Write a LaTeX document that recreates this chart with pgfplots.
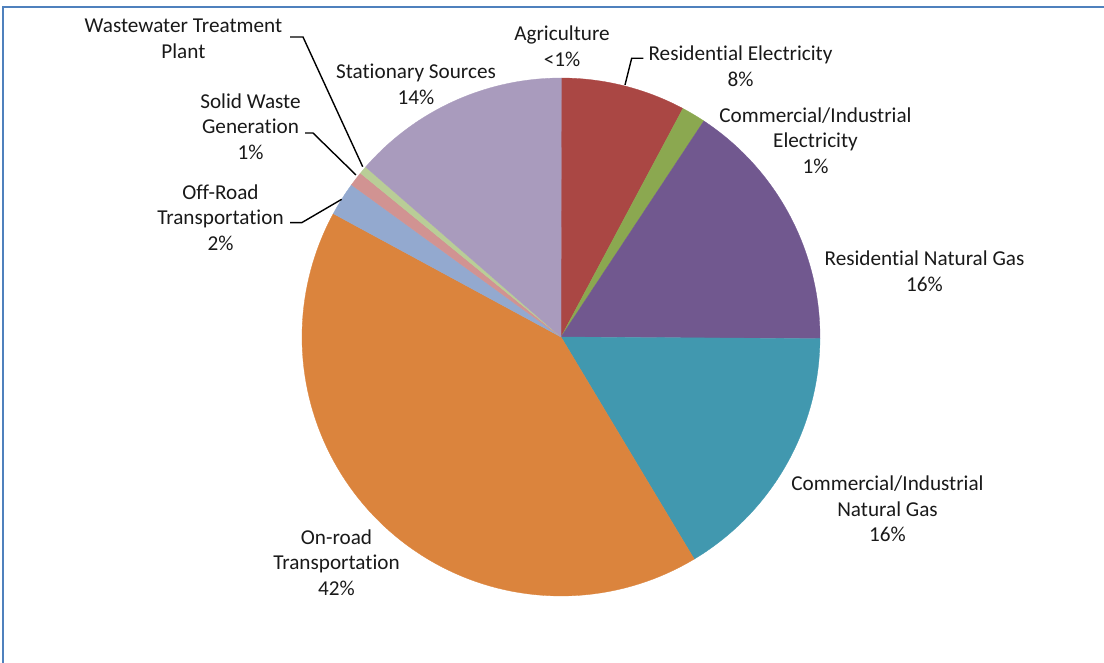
\documentclass[border=0pt]{standalone}
\usepackage{pgfplots}
\usepackage{pgfplotstable}
\pgfplotsset{compat=1.18}
\usepackage{fontspec}
\setmainfont{Carlito}[RawFeature={-liga}]
\definecolor{cAgr}{HTML}{A99BBD}
\definecolor{cRE}{HTML}{AA4744}
\definecolor{cCE}{HTML}{8BA850}
\definecolor{cRG}{HTML}{71588F}
\definecolor{cCG}{HTML}{4198AF}
\definecolor{cOR}{HTML}{DB843D}
\definecolor{cOff}{HTML}{93A9CF}
\definecolor{cSW}{HTML}{D19392}
\definecolor{cWW}{HTML}{B9CD97}
\definecolor{cSS}{HTML}{A99BBD}
\definecolor{frame}{HTML}{4F81BD}
\tikzset{lbl/.style={font=\fontsize{21.2}{25.7}\selectfont, align=center, text=black!90, inner sep=0pt}}
\pgfplotstableread{
value col
0.05 cAgr
7.75 cRE
1.5 cCE
15.8 cRG
16.3 cCG
41.5 cOR
2.1 cOff
0.9 cSW
0.5 cWW
13.6 cSS
}\piedata
\begin{document}
\begin{tikzpicture}
\begin{axis}[
  width=1104pt, height=662pt, scale only axis,
  xmin=0, xmax=1104, ymin=0, ymax=662,
  hide axis, clip=false,
]
\pgfplotstablegetrowsof{\piedata}
\pgfmathtruncatemacro\N{\pgfplotsretval-1}
\def\cum{0}
\pgfplotsforeachungrouped \i in {0,...,\N}{%
  \pgfplotstablegetelem{\i}{value}\of\piedata \let\sliceval\pgfplotsretval
  \pgfplotstablegetelem{\i}{col}\of\piedata \let\slicecol\pgfplotsretval
  \pgfmathsetmacro\aend{90-3.6*\cum}%
  \pgfmathsetmacro\cum{\cum+\sliceval}%
  \pgfmathsetmacro\astart{90-3.6*\cum}%
  \edef\temp{\noexpand\addplot[fill=\slicecol, draw=\slicecol, line width=0.3pt, domain=\astart:\aend, samples=90, variable=\noexpand\t] ({561+259*cos(\noexpand\t)},{325+259*sin(\noexpand\t)}) -- (axis cs:561,325) -- cycle;}%
  \temp
}
% leader lines
\draw[black, line width=1.4pt] (axis cs:625,577) -- (axis cs:631.7,603.7) -- (axis cs:643.3,603.7);
\draw[black, line width=1.4pt] (axis cs:290,625) -- (axis cs:303,625) -- (axis cs:362.7,495.3);
\draw[black, line width=1.4pt] (axis cs:305,529) -- (axis cs:313,529) -- (axis cs:356,487);
\draw[black, line width=1.4pt] (axis cs:290,439.3) -- (axis cs:301.7,439.3) -- (axis cs:341.7,462.7);
% labels
\node[lbl] at (axis cs:562,616) {Agriculture\\<1\%};
\node[lbl] at (axis cs:740.5,596) {Residential Electricity\\8\%};
\node[lbl] at (axis cs:815.5,521.5) {Commercial/Industrial\\Electricity\\1\%};
\node[lbl] at (axis cs:924.5,391) {Residential Natural Gas\\16\%};
\node[lbl] at (axis cs:887.5,153) {Commercial/Industrial\\Natural Gas\\16\%};
\node[lbl] at (axis cs:336.5,99.5) {On-road\\Transportation\\42\%};
\node[lbl] at (axis cs:220.5,444.5) {Off-Road\\Transportation\\2\%};
\node[lbl] at (axis cs:250.5,535.5) {Solid Waste\\Generation\\1\%};
\node[lbl] at (axis cs:183.4,623) {Wastewater Treatment\\Plant};
\node[lbl] at (axis cs:416,578) {Stationary Sources\\14\%};
% frame
\draw[frame, line width=1.5pt] (axis cs:3,-10) -- (axis cs:3,655) -- (axis cs:1104,655);
\end{axis}
\pgfresetboundingbox
\path[use as bounding box] (current axis.south west) rectangle (current axis.north east);
\end{tikzpicture}
\end{document}
